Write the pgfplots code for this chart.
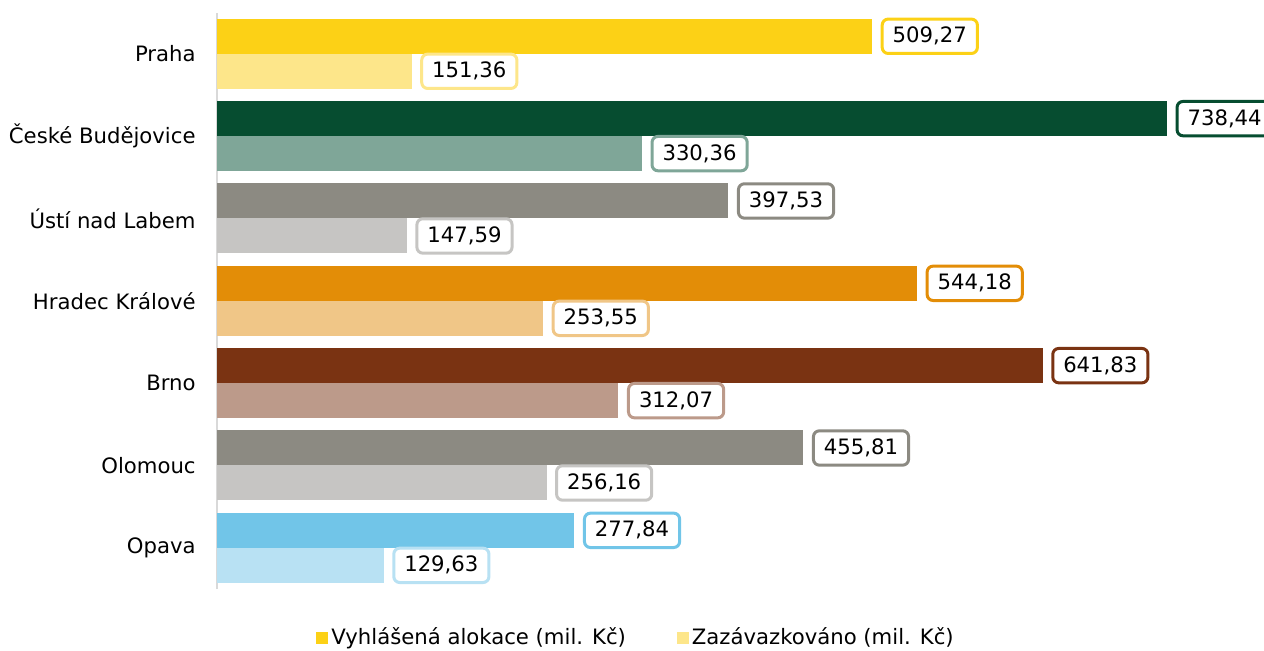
\documentclass[border=0pt]{standalone}
\usepackage{fontspec}
\setmainfont{DejaVu Sans}
\usepackage{pgfplots}
\pgfplotsset{compat=1.18}
\definecolor{axgray}{HTML}{D9D9D9}
\definecolor{prA}{HTML}{FCD116}
\definecolor{prB}{HTML}{FDE68A}
\definecolor{cbA}{HTML}{064D30}
\definecolor{cbB}{HTML}{7FA698}
\definecolor{grA}{HTML}{8C8A82}
\definecolor{grB}{HTML}{C6C5C3}
\definecolor{hkA}{HTML}{E38D07}
\definecolor{hkB}{HTML}{F0C687}
\definecolor{brA}{HTML}{7A3312}
\definecolor{brB}{HTML}{BC9A8A}
\definecolor{opA}{HTML}{71C5E8}
\definecolor{opB}{HTML}{B8E1F3}
\pgfplotsset{
  top/.style={fill=#1, draw=none, bar shift=8.75pt, forget plot,
    every node near coord/.append style={draw=#1}},
  bot/.style={fill=#1, draw=none, bar shift=-8.75pt, forget plot,
    every node near coord/.append style={draw=#1}},
}
\begin{document}
\fontsize{10.6pt}{12.7pt}\selectfont
\begin{tikzpicture}
\begin{axis}[
  at={(108.5pt,30.5pt)}, anchor=south west,
  scale only axis, width=523.5pt, height=288.2pt,
  xbar, xmin=0, xmax=813.8, ymin=-0.5, ymax=6.5,
  bar width=17.5pt,
  axis lines*=left,
  x axis line style={draw=none},
  y axis line style={draw=axgray, line width=1pt},
  xtick=\empty,
  ytick={0,...,6},
  yticklabels={Opava,Olomouc,Brno,Hradec Králové,Ústí nad Labem,České Budějovice,Praha},
  major tick length=0pt,
  yticklabel style={inner sep=0pt, xshift=-10.5pt, anchor=east, text=black},
  point meta=x,
  nodes near coords={\pgfmathprintnumber[assume math mode=true,use comma,fixed,fixed zerofill,precision=2]{\pgfplotspointmeta}},
  nodes near coords align={horizontal},
  every node near coord/.append style={anchor=west, xshift=4.25pt, fill=white, text=black,
    line width=1.5pt, rounded corners=3pt, inner xsep=5.25pt, inner ysep=4.1pt,
    text height=7.7pt, text depth=1.3pt},
  legend image code/.code={\fill[#1, draw=none] (0pt,-3pt) rectangle (6pt,3pt);},
  legend style={draw=none, fill=none, legend columns=2, inner sep=0pt,
    at={(0.0946,-0.085)}, anchor=west,
    nodes={inner sep=1.5pt, text=black},
    /tikz/every even column/.append style={column sep=24pt}},
]
% Praha
\addplot[top=prA] coordinates {(509.27,6)};
\addplot[bot=prB] coordinates {(151.36,6)};
% Ceske Budejovice
\addplot[top=cbA] coordinates {(738.44,5)};
\addplot[bot=cbB] coordinates {(330.36,5)};
% Usti nad Labem
\addplot[top=grA] coordinates {(397.53,4)};
\addplot[bot=grB] coordinates {(147.59,4)};
% Hradec Kralove
\addplot[top=hkA] coordinates {(544.18,3)};
\addplot[bot=hkB] coordinates {(253.55,3)};
% Brno
\addplot[top=brA] coordinates {(641.83,2)};
\addplot[bot=brB] coordinates {(312.07,2)};
% Olomouc
\addplot[top=grA] coordinates {(455.81,1)};
\addplot[bot=grB] coordinates {(256.16,1)};
% Opava
\addplot[top=opA] coordinates {(277.84,0)};
\addplot[bot=opB] coordinates {(129.63,0)};
\addlegendimage{fill=prA}
\addlegendentry{Vyhlášená alokace (mil. Kč)}
\addlegendimage{fill=prB}
\addlegendentry{Zazávazkováno (mil. Kč)}
\end{axis}
\pgfresetboundingbox
\path (0,0) rectangle (632pt,325pt);
\end{tikzpicture}
\end{document}
